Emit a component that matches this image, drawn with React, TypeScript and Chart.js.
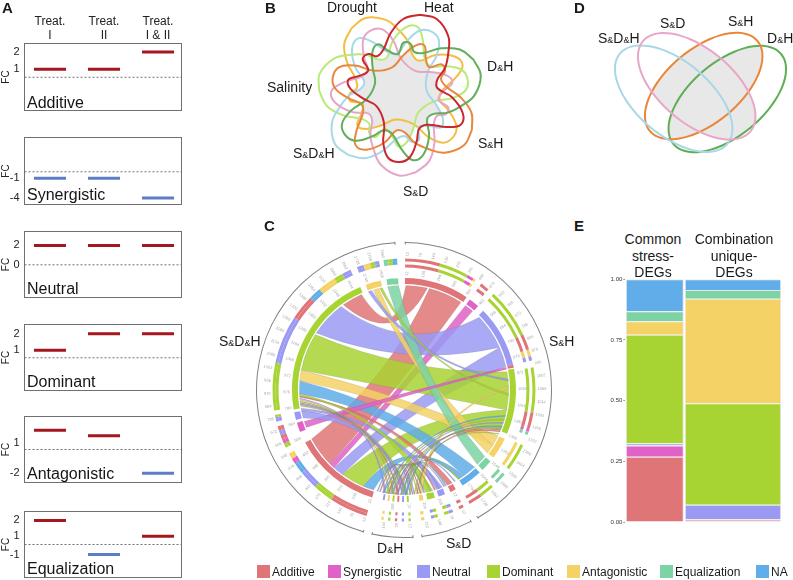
import React, { useEffect, useRef } from "react";
import { Chart, registerables } from "chart.js";

Chart.register(...registerables);
Chart.defaults.font.family = '"Liberation Sans", Arial, sans-serif';
Chart.defaults.plugins.legend.display = false;
Chart.defaults.plugins.tooltip.enabled = false;

// ---------- shared categories ----------
const classNames = ["Additive", "Synergistic", "Neutral", "Dominant", "Antagonistic", "Equalization", "NA"];
const classColors = ["#e07577", "#e062c6", "#9a9af5", "#a8d433", "#f4d265", "#7dd3a3", "#60ade9"];
const legendSquareX = [257, 328, 417, 487, 567, 660, 756];

// ---------- panel A ----------
const treatmentLabels = [["Treat.", "I"], ["Treat.", "II"], ["Treat.", "I & II"]];
const UP = "#a5171f";
const DOWN = "#5c7cc8";
const additiveValues = [1, 1, 2];
const synergisticValues = [-1, -1, -4];
const neutralValues = [2, 2, 2];
const dominantValues = [1, 2, 2];
const antagonisticValues = [2.29, 1.76, -2];
const equalizationValues = [2, -0.17, 1];
const fcPanels = [
  { name: "Additive", values: additiveValues, top: 43.5, bottom: 110.5, min: -1.41, max: 2.5, dash: 0.53, ticks: [2, 1], labels: ["2", "1"], base: 108 },
  { name: "Synergistic", values: synergisticValues, top: 137.5, bottom: 204.5, min: -5.0, max: 5.23, dash: 0, ticks: [-1, -4], labels: ["-1", "-4"], base: 200 },
  { name: "Neutral", values: neutralValues, top: 231.5, bottom: 297.5, min: -3.38, max: 3.44, dash: 0, ticks: [2, 0], labels: ["2", "0"], base: 293.5 },
  { name: "Dominant", values: dominantValues, top: 324.5, bottom: 390.5, min: -1.42, max: 2.55, dash: 0.55, ticks: [2, 1], labels: ["2", "1"], base: 386.7 },
  { name: "Antagonistic", values: antagonisticValues, top: 416.5, bottom: 482.5, min: -2.91, max: 3.67, dash: 0.38, ticks: [1, -2], labels: ["1", "-2"], base: 479 },
  { name: "Equalization", values: equalizationValues, top: 511.5, bottom: 577.5, min: -1.63, max: 2.57, dash: 0.47, ticks: [2, 1, -0.17], labels: ["2", "1", "-1"], base: 574 },
];
const X_MIN = 0.528;
const X_MAX = 3.435;

// ---------- panel B: one petal outline (offset from the centre) ----------
const petalX = [20, 36.7, 48.3, 48.3, 45, 37.3, 37.3, 51.7, 62.7, 60.7, 46.7, 26.7, 19, 16.7, 10, 0, -11.7, -16.7, -16, -23.3, -36.7, -49.3, -51.7, -40, -31.7, -37.3, -31.7, -23.3, -16.7, -9.3, 3.3];
const petalY = [-78.3, -74, -56.7, -40, -25, -13.3, -5, 4, 20, 31.7, 34, 31.7, 36, 48.3, 64, 69, 65, 50, 30, 13.3, 5.7, -4, -13.3, -17.3, -22.7, -34, -39, -36.7, -43.3, -60, -74];
const petalSets = ["Heat", "D&H", "S&H", "S&D", "S&D&H", "Salinity", "Drought"];
const petalColors = ["#c8282f", "#62ae5a", "#e8883f", "#e8a5c8", "#a6d8e8", "#b8ea78", "#f4bd40"];

// ---------- panel D: four ellipses ----------
const ellipseSets = ["S&D", "S&D&H", "S&H", "D&H"];
const ellipseColors = ["#e9a7c8", "#a8d8e8", "#e8873a", "#5fae55"];
const ellipseCx = [696.7, 673.7, 703.7, 727.3];
const ellipseCy = [86.3, 98.7, 86, 99];
const ellipseTilt = [40, 40, -40, -40];
const ELLIPSE_A = 70.2;
const ELLIPSE_B = 36.9;

// ---------- panel C: rings are [start, end, class], in degrees clockwise from the top ----------
const sectorsC = [[0.5, 150], [153, 173], [176.5, 192.5], [196, 356.5]];
const innerRing = [
  [0.5, 34, 0], [36, 41.5, 1], [45, 77, 2], [77, 78.5, 0], [79, 113, 3], [116, 127, 4], [129.5, 135.5, 5], [137.5, 148.5, 6],
  [152.5, 155.5, 0], [158.5, 162, 2], [164, 168, 3], [170, 172, 4],
  [177.5, 178.5, 3], [180, 181, 2], [182.5, 183.5, 0], [185, 186, 3], [187.5, 188.5, 4], [190, 191, 2],
  [196.5, 242, 0], [248, 253, 1], [254.5, 258.5, 2], [260, 337, 3], [340, 348, 4], [351, 357, 5],
];
const outerRing = [
  [0.5, 16, 0], [16, 29, 3], [29, 32, 1], [32, 33, 4], [36, 40, 0], [43, 65, 3], [65, 72, 0], [72, 75, 4], [75, 77, 2],
  [80, 100, 3], [100, 107, 0], [107, 108.5, 1], [108.5, 110, 5], [115, 127, 3], [130, 135, 5], [137.5, 144, 3], [144, 150, 0],
  [153, 155, 0], [158, 160, 2], [160, 162, 3], [165, 166.5, 3], [166.5, 168, 2], [171, 172.5, 4],
  [177, 178, 3], [180, 181, 2], [183, 184, 0], [186, 187, 3], [189, 190, 4],
  [196.6, 213.7, 0], [213.7, 222.5, 3], [222.5, 231, 2], [231, 236, 6], [236, 238.5, 1], [238.5, 241, 4],
  [244, 246, 3], [246, 248, 1], [248, 250, 0], [250, 252, 2], [252, 254, 0], [256, 258, 2], [258, 259, 3],
  [261, 282, 3], [282, 303.5, 2], [303.5, 314.6, 0], [314.6, 320, 6], [320, 328, 4], [328, 332, 3], [332, 336, 2],
  [339, 342, 2], [342, 345, 4], [345, 347, 3], [347, 349, 2], [351, 353, 5], [353, 355, 3], [355, 357, 6],
];
// ribbons: from-start, from-end, to-start, to-end, class
const mainRibbons = [
  [14, 33, 225, 242, 0],
  [1, 13, 324.5, 336, 0],
  [36, 41, 222, 225, 1],
  [46, 66, 303, 323, 2],
  [66, 77, 216, 222, 2],
  [80, 101, 281, 302, 3],
  [101, 112, 203, 216, 3],
  [116, 122, 275, 281, 4],
  [122, 127, 343, 346, 4],
  [129.5, 135.5, 351, 357, 5],
  [137.5, 145, 268, 275, 6],
  [145, 148.5, 197, 203, 6],
];
const thinRibbons = [
  [77.5, 78.5, 249, 252.5, 1],
  [178, 179.5, 254.5, 258.5, 2],
  [152.5, 155.5, 266, 266.8, 0],
  [158.5, 162, 258.6, 260, 2],
  [164, 168, 267, 268, 3],
  [88, 89, 170, 172, 4],
  [177.5, 178.5, 261, 261.6, 3],
  [180, 181, 261.8, 262.4, 2],
  [182.5, 183.5, 262.6, 263.2, 0],
  [185, 186, 263.4, 264, 3],
  [187.5, 188.5, 264.2, 264.8, 4],
  [190, 191, 265, 265.6, 2],
  [110, 110.8, 178.5, 179.5, 6],
  [111, 111.8, 181, 182, 3],
  [112, 112.8, 183.5, 184.5, 0],
  [108, 108.8, 186, 187, 2],
  [106, 106.8, 188.5, 189.5, 3],
  [104, 104.8, 191, 191.8, 6],
  [84, 85, 340, 342, 2],
  [92, 93, 346.5, 348, 3],
  [156, 156.7, 180, 180.6, 6],
  [157, 157.7, 181.4, 182, 2],
  [160, 160.8, 183, 183.6, 2],
  [162.5, 163.2, 184.4, 185, 0],
  [165, 165.8, 186, 186.6, 3],
  [168.5, 169.2, 187, 187.6, 6],
  [170.5, 171.2, 188, 188.6, 0],
  [172, 172.6, 189.4, 190, 3],
  [174, 174.6, 191.2, 191.8, 2],
  [175, 175.6, 193, 193.6, 0],
  [176.2, 176.8, 194.4, 195, 6],
  [148, 148.8, 176.6, 177.2, 3],
  [150.5, 151.2, 178.8, 179.4, 2],
  [113, 113.6, 172.6, 173.2, 0],
  [114.5, 115, 174, 174.6, 3],
];

// ---------- panel E ----------
const columnShares = [0.377, 0.623];
const stressAdditive = [0.269, 0.011];
const stressSynergistic = [0.046, 0];
const stressNeutral = [0.009, 0.06];
const stressDominant = [0.448, 0.418];
const stressAntagonistic = [0.055, 0.431];
const stressEqualization = [0.041, 0.036];
const stressNA = [0.132, 0.044];
const stressSeries = [stressAdditive, stressSynergistic, stressNeutral, stressDominant, stressAntagonistic, stressEqualization, stressNA];

// ---------- helpers ----------
const rad = (deg: number) => ((deg - 90) * Math.PI) / 180;

function ringSpans(list: number[][]) {
  const spans: number[] = [];
  const colors: string[] = [];
  let at = 0;
  list.forEach(([s, e, c]) => {
    if (s > at) {
      spans.push(s - at);
      colors.push("rgba(0,0,0,0)");
    }
    spans.push(e - s);
    colors.push(classColors[c]);
    at = e;
  });
  if (at < 360) {
    spans.push(360 - at);
    colors.push("rgba(0,0,0,0)");
  }
  return { spans, colors };
}

function ringDataset(list: number[][], weight: number) {
  const { spans, colors } = ringSpans(list);
  return { data: spans, backgroundColor: colors, borderWidth: 0, weight };
}

function fcConfig(p: any, first: boolean) {
  const canvasTop = first ? 0 : Math.floor(p.top) - 6;
  const height = Math.ceil(p.bottom) - canvasTop + 6;
  const marks = p.values.map((v: number, i: number) => ({ x: i + 1, y: v }));
  const boxPlugin = {
    id: "fcBox",
    beforeDatasetsDraw(c: any) {
      const a = c.chartArea;
      const g = c.ctx;
      g.save();
      g.strokeStyle = "#707070";
      g.lineWidth = 1;
      g.strokeRect(a.left, a.top, a.right - a.left, a.bottom - a.top);
      g.restore();
    },
    afterDatasetsDraw(c: any) {
      const g = c.ctx;
      g.save();
      g.fillStyle = "#151515";
      g.font = '16px "Liberation Sans", Arial, sans-serif';
      g.textBaseline = "alphabetic";
      g.fillText(p.name, c.chartArea.left + 2.5, p.base - canvasTop);
      g.restore();
    },
  };
  return {
    canvasTop,
    height,
    config: {
      type: "scatter",
      data: {
        datasets: [
          {
            data: marks,
            showLine: false,
            pointStyle: "line",
            pointRadius: 16,
            pointBorderWidth: 3,
            pointBorderColor: p.values.map((v: number) => (v > p.dash ? UP : DOWN)),
            pointBackgroundColor: p.values.map((v: number) => (v > p.dash ? UP : DOWN)),
            clip: false,
          },
          {
            data: [{ x: X_MIN, y: p.dash }, { x: X_MAX, y: p.dash }],
            showLine: true,
            borderColor: "#707070",
            borderWidth: 1,
            borderDash: [2, 2],
            pointRadius: 0,
          },
        ],
      },
      options: {
        responsive: false,
        animation: false,
        events: [],
        layout: { autoPadding: false, padding: { top: first ? 0 : p.top - canvasTop, bottom: height - (p.bottom - canvasTop), left: 0, right: 1.5 } },
        scales: {
          x: {
            type: "linear",
            position: "top",
            display: first,
            min: X_MIN,
            max: X_MAX,
            grid: { display: false, drawTicks: false },
            border: { display: false },
            afterBuildTicks(s: any) {
              s.ticks = [{ value: 1 }, { value: 2 }, { value: 3 }];
            },
            afterFit(s: any) {
              s.height = first ? 43.5 : 0;
              s.paddingLeft = 0;
              s.paddingRight = 0;
            },
            ticks: {
              autoSkip: false,
              maxRotation: 0,
              padding: 0.5,
              color: "#222",
              font: { size: 12 },
              callback: (_v: any, i: number) => treatmentLabels[i],
            },
          },
          y: {
            min: p.min,
            max: p.max,
            grid: { display: false, drawTicks: false },
            border: { display: false },
            title: { display: true, text: "FC", color: "#222", font: { size: 10 }, padding: 0 },
            afterBuildTicks(s: any) {
              s.ticks = p.ticks.map((value: number) => ({ value }));
            },
            afterFit(s: any) {
              s.width = 24.5;
              s.paddingTop = 0;
              s.paddingBottom = 0;
            },
            ticks: {
              autoSkip: false,
              padding: 5,
              color: "#222",
              font: { size: 11 },
              callback: (_v: any, i: number) => p.labels[i],
            },
          },
        },
      },
      plugins: [boxPlugin],
    },
  };
}

function fillOverlap(c: any, groups: number[][], color: string) {
  const g = c.ctx;
  const metas = c.data.datasets.map((_: any, i: number) => c.getDatasetMeta(i).dataset);
  metas.forEach((m: any) => m.updateControlPoints(c.chartArea, "x"));
  groups.forEach((group) => {
    g.save();
    group.forEach((i) => {
      g.beginPath();
      metas[i].path(g);
      g.closePath();
      g.clip();
    });
    g.fillStyle = color;
    g.fillRect(0, 0, c.width, c.height);
    g.restore();
  });
}

function vennBConfig() {
  const datasets = petalSets.map((label, k) => {
    const t = (k * 2 * Math.PI) / 7;
    const pts = petalX.map((x, i) => ({
      x: x * Math.cos(t) - petalY[i] * Math.sin(t),
      y: x * Math.sin(t) + petalY[i] * Math.cos(t),
    }));
    pts.push(pts[0]);
    return { label, data: pts, showLine: true, tension: 0.4, borderColor: petalColors[k], borderWidth: 2, pointRadius: 0, clip: false };
  });
  const allButOne = petalSets.map((_, skip) => petalSets.map((_s, i) => i).filter((i) => i !== skip));
  return {
    type: "scatter",
    data: { datasets },
    options: {
      responsive: false,
      animation: false,
      events: [],
      layout: { autoPadding: false },
      scales: {
        x: { type: "linear", display: false, min: -140, max: 150 },
        y: { type: "linear", display: false, min: -93, max: 107, reverse: true },
      },
    },
    plugins: [{ id: "vennFill", beforeDatasetsDraw: (c: any) => fillOverlap(c, allButOne, "#e8e8e8") }],
  };
}

function vennDConfig() {
  const datasets = ellipseSets.map((label, k) => {
    const tilt = (ellipseTilt[k] * Math.PI) / 180;
    const pts: { x: number; y: number }[] = [];
    for (let i = 0; i <= 36; i++) {
      const t = (i * Math.PI) / 18;
      const u = ELLIPSE_A * Math.cos(t);
      const v = ELLIPSE_B * Math.sin(t);
      pts.push({ x: ellipseCx[k] + u * Math.cos(tilt) - v * Math.sin(tilt), y: ellipseCy[k] + u * Math.sin(tilt) + v * Math.cos(tilt) });
    }
    return { label, data: pts, showLine: true, tension: 0.4, borderColor: ellipseColors[k], borderWidth: 2, pointRadius: 0, clip: false };
  });
  return {
    type: "scatter",
    data: { datasets },
    options: {
      responsive: false,
      animation: false,
      events: [],
      layout: { autoPadding: false },
      scales: {
        x: { type: "linear", display: false, min: 590, max: 793 },
        y: { type: "linear", display: false, min: 10, max: 170, reverse: true },
      },
    },
    plugins: [{ id: "vennFill", beforeDatasetsDraw: (c: any) => fillOverlap(c, [[0, 2], [0, 3], [2, 3]], "#e8e8e8") }],
  };
}

function chordConfig() {
  const bracketSpans: number[] = [];
  const bracketColors: string[] = [];
  let at = 0;
  sectorsC.forEach(([s, e]) => {
    bracketSpans.push(s - at, e - s);
    bracketColors.push("rgba(0,0,0,0)", "#808080");
    at = e;
  });
  bracketSpans.push(360 - at);
  bracketColors.push("rgba(0,0,0,0)");
  const blank = { data: [360], backgroundColor: ["rgba(0,0,0,0)"], borderWidth: 0 };
  const leftOuter = outerRing.filter((r) => r[0] > 194);
  const otherOuter = outerRing.filter((r) => r[0] < 194);
  const otherOuterInner = otherOuter.map((r) => (r[0] === 115 ? [115, 127, 4] : r));
  const ribbonPlugin = {
    id: "ribbons",
    afterDatasetsDraw(c: any) {
      const arc = c.getDatasetMeta(0).data[1];
      const cx = arc.x;
      const cy = arc.y;
      const g = c.ctx;
      const R = 104.6;
      const K = 0.22;
      const pt = (a: number) => [cx + R * Math.cos(rad(a)), cy + R * Math.sin(rad(a))];
      const ctrl = (p: number, q: number) => [
        cx + (Math.cos(rad(p)) + Math.cos(rad(q))) * K * R,
        cy + (Math.sin(rad(p)) + Math.sin(rad(q))) * K * R,
      ];
      g.save();
      [...mainRibbons, ...thinRibbons].forEach(([a0, a1, b0, b1, k]) => {
        const c1 = ctrl(a1, b0);
        const c2 = ctrl(b1, a0);
        const pb = pt(b0);
        const pa = pt(a0);
        g.beginPath();
        g.moveTo(pa[0], pa[1]);
        g.arc(cx, cy, R, rad(a0), rad(a1));
        g.quadraticCurveTo(c1[0], c1[1], pb[0], pb[1]);
        g.arc(cx, cy, R, rad(b0), rad(b1));
        g.quadraticCurveTo(c2[0], c2[1], pa[0], pa[1]);
        g.closePath();
        g.globalAlpha = 0.85;
        g.fillStyle = classColors[k];
        g.fill();
        g.globalAlpha = 0.35;
        g.strokeStyle = "#555";
        g.lineWidth = 0.4;
        g.stroke();
      });
      g.globalAlpha = 1;
      // axis marks
      g.font = '4px "Liberation Sans", Arial, sans-serif';
      g.textBaseline = "middle";
      sectorsC.forEach(([s, e]) => {
        g.lineWidth = 1;
        g.strokeStyle = "#808080";
        [s, e].forEach((a) => {
          g.beginPath();
          g.moveTo(cx + 145.5 * Math.cos(rad(a)), cy + 145.5 * Math.sin(rad(a)));
          g.lineTo(cx + 148.5 * Math.cos(rad(a)), cy + 148.5 * Math.sin(rad(a)));
          g.stroke();
        });
        g.fillStyle = "#a8a8a8";
        [{ r: 133.5, step: 5.5 }, { r: 114, step: 8 }].forEach(({ r, step }) => {
          for (let a = s + 1; a < e; a += step) {
            const label = String(Math.round((a - s) * 12));
            g.save();
            g.translate(cx + r * Math.cos(rad(a)), cy + r * Math.sin(rad(a)));
            if (a > 180) {
              g.rotate(rad(a) + Math.PI);
              g.textAlign = "right";
            } else {
              g.rotate(rad(a));
              g.textAlign = "left";
            }
            g.fillText(label, 0, 0);
            g.restore();
          }
        });
      });
      g.restore();
    },
  };
  return {
    type: "doughnut",
    data: {
      datasets: [
        { data: bracketSpans, backgroundColor: bracketColors, borderWidth: 0, weight: 1 },
        { ...blank, weight: 15.5 },
        ringDataset(outerRing, 3),
        { ...ringDataset(leftOuter, 3) },
        ringDataset(otherOuterInner, 3),
        { ...blank, weight: 10.5 },
        ringDataset(innerRing, 6),
      ],
    },
    options: {
      responsive: false,
      animation: false,
      events: [],
      cutout: 106,
      layout: { padding: 4 },
    },
    plugins: [ribbonPlugin],
  };
}

function mosaicConfig() {
  const datasets = stressSeries.map((data, i) => ({
    label: classNames[i],
    data,
    backgroundColor: i === 0 ? [classColors[0], "#e2a3b4"] : classColors[i],
    borderColor: "#e6e6e6",
    borderWidth: 1,
  }));
  return {
    type: "bar",
    data: { labels: ["Common stress-DEGs", "Combination unique-DEGs"], datasets },
    options: {
      responsive: false,
      animation: false,
      events: [],
      layout: { padding: { top: 9.3, right: 8.3, bottom: 8, left: 0 } },
      scales: {
        x: { stacked: true, display: false },
        y: {
          stacked: true,
          min: 0,
          max: 1,
          grid: { drawOnChartArea: false, tickLength: 2, color: "#999" },
          border: { display: false },
          afterFit(s: any) {
            s.width = 35.3;
            s.paddingTop = 0;
            s.paddingBottom = 0;
          },
          ticks: { stepSize: 0.25, padding: 1, color: "#333", font: { size: 6 }, callback: (v: any) => Number(v).toFixed(2) },
        },
      },
    },
    plugins: [
      {
        id: "columnWidths",
        beforeDatasetsDraw(c: any) {
          const { left, right } = c.chartArea;
          let x = left;
          columnShares.forEach((share, i) => {
            const w = (right - left) * share;
            c.data.datasets.forEach((_: any, d: number) => {
              const bar = c.getDatasetMeta(d).data[i];
              bar.x = x + w / 2;
              bar.width = w - 1;
            });
            x += w;
          });
        },
      },
    ],
  };
}

// ---------- components ----------
function ChartCanvas({ make, left, top, width, height }: any) {
  const ref = useRef<HTMLCanvasElement | null>(null);
  useEffect(() => {
    const chart = new Chart(ref.current as any, make());
    return () => chart.destroy();
  }, []);
  return <canvas ref={ref} width={width} height={height} style={{ position: "absolute", left, top, width, height, display: "block" }} />;
}

function Text({ x, base, size = 14, bold = false, center = false, children }: any) {
  return (
    <div
      style={{
        position: "absolute",
        left: x,
        top: base - 0.8465 * size,
        fontSize: size,
        lineHeight: 1,
        fontWeight: bold ? 700 : 400,
        color: "#1a1a1a",
        whiteSpace: "nowrap",
        transform: center ? "translateX(-50%)" : undefined,
      }}
    >
      {children}
    </div>
  );
}

const Amp = () => <span style={{ fontSize: 9 }}>&amp;</span>;

export default function App() {
  const panels = fcPanels.map((p, i) => ({ p, first: i === 0, built: fcConfig(p, i === 0) }));
  return (
    <div style={{ position: "absolute", left: 0, top: 0, width: 793, height: 580, overflow: "hidden", background: "#fff", fontFamily: '"Liberation Sans", Arial, sans-serif' }}>
      {panels.map(({ p, first, built }) => (
        <ChartCanvas key={p.name} make={() => fcConfig(p, first).config} left={0} top={built.canvasTop} width={183} height={built.height} />
      ))}
      <ChartCanvas make={vennBConfig} left={260} top={0} width={290} height={200} />
      <ChartCanvas make={vennDConfig} left={590} top={10} width={203} height={160} />
      <ChartCanvas make={chordConfig} left={252} top={238} width={304} height={304} />
      <ChartCanvas make={mosaicConfig} left={590} top={270} width={200} height={260} />

      <Text x={2} base={13} size={15} bold>A</Text>
      <Text x={265} base={13} size={15} bold>B</Text>
      <Text x={264} base={231} size={15} bold>C</Text>
      <Text x={574} base={13} size={15} bold>D</Text>
      <Text x={574} base={231} size={15} bold>E</Text>

      <Text x={327} base={12}>Drought</Text>
      <Text x={424} base={12}>Heat</Text>
      <Text x={267} base={92}>Salinity</Text>
      <Text x={487} base={71}>D<Amp />H</Text>
      <Text x={478} base={148}>S<Amp />H</Text>
      <Text x={293} base={158}>S<Amp />D<Amp />H</Text>
      <Text x={403} base={196}>S<Amp />D</Text>

      <Text x={598} base={43}>S<Amp />D<Amp />H</Text>
      <Text x={660} base={27.5}>S<Amp />D</Text>
      <Text x={728} base={26}>S<Amp />H</Text>
      <Text x={767} base={43}>D<Amp />H</Text>

      <Text x={219} base={345.7}>S<Amp />D<Amp />H</Text>
      <Text x={549} base={345.7}>S<Amp />H</Text>
      <Text x={377} base={552.7}>D<Amp />H</Text>
      <Text x={446} base={547.7}>S<Amp />D</Text>

      <Text x={653} base={244} center>Common</Text>
      <Text x={653} base={260.7} center>stress-</Text>
      <Text x={653} base={277} center>DEGs</Text>
      <Text x={734} base={244} center>Combination</Text>
      <Text x={734} base={260.7} center>unique-</Text>
      <Text x={734} base={277} center>DEGs</Text>

      {classNames.map((name, i) => (
        <React.Fragment key={name}>
          <div style={{ position: "absolute", left: legendSquareX[i], top: 565, width: 13, height: 13, background: classColors[i] }} />
          <Text x={legendSquareX[i] + 15} base={576} size={12}>{name}</Text>
        </React.Fragment>
      ))}
    </div>
  );
}
